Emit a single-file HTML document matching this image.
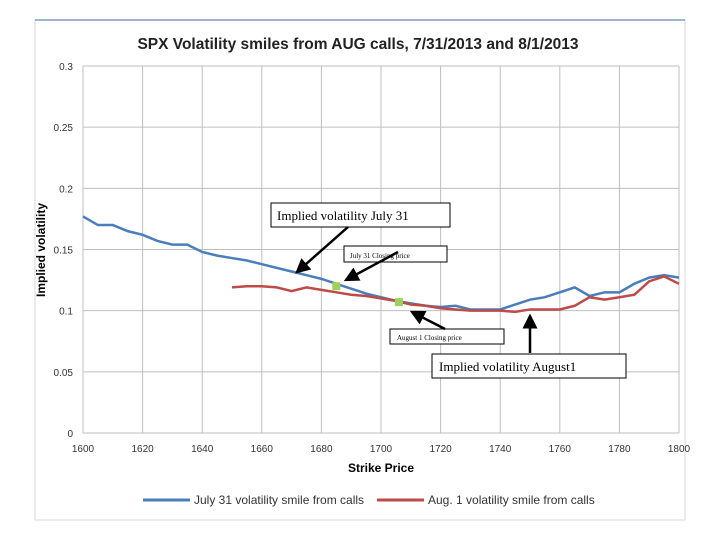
<!DOCTYPE html>
<html><head><meta charset="utf-8"><style>
body{margin:0;background:#fff;width:720px;height:540px;overflow:hidden;font-family:"Liberation Sans",sans-serif}
</style></head><body>
<svg id="c" width="720" height="540" xmlns="http://www.w3.org/2000/svg">
<defs><marker id="ah" markerWidth="6" markerHeight="6" refX="5" refY="3" orient="auto" markerUnits="strokeWidth"><path d="M0,0 L6,3 L0,6 z" fill="#000"/></marker></defs>
<rect x="35" y="20" width="650" height="500" fill="#fff" stroke="#d9d9d9"/>
<line x1="35" y1="20" x2="685" y2="20" stroke="#9db3d0" stroke-width="2"/>
<text x="358" y="49" text-anchor="middle" font-size="15.5" font-weight="bold" fill="#222">SPX Volatility smiles from AUG calls, 7/31/2013 and 8/1/2013</text>
<g id="grid"></g><g id="series"></g>
<text x="45" y="250" transform="rotate(-90 45 250)" text-anchor="middle" font-size="12" font-weight="bold">Implied volatility</text>
<text x="381" y="472" text-anchor="middle" font-size="12" font-weight="bold">Strike Price</text>
<g>
<line x1="143" y1="500" x2="190" y2="500" stroke="#4a7ebb" stroke-width="3"/>
<text x="194" y="504" font-size="12" fill="#333">July 31 volatility smile from calls</text>
<line x1="377" y1="500" x2="424" y2="500" stroke="#be4b48" stroke-width="3"/>
<text x="428" y="504" font-size="12" fill="#333">Aug. 1 volatility smile from calls</text>
</g>
<g font-family="Liberation Serif,serif" fill="#000">
<rect x="271" y="203" width="179" height="24" fill="#fff" stroke="#000"/>
<text x="277" y="220" font-size="13">Implied volatility July 31</text>
<rect x="344" y="246" width="103" height="16" fill="#fff" stroke="#000"/>
<text x="350" y="258" font-size="7">July 31 Closing price</text>
<rect x="390" y="329" width="114" height="15" fill="#fff" stroke="#000"/>
<text x="397" y="340" font-size="7">August 1 Closing price</text>
<rect x="432" y="354" width="194" height="24" fill="#fff" stroke="#000"/>
<text x="439" y="371" font-size="13">Implied volatility August1</text>
</g>
<g stroke="#000" stroke-width="2.5">
<line x1="348" y1="227" x2="297" y2="272" marker-end="url(#ah)"/><line x1="445" y1="329" x2="412" y2="312" marker-end="url(#ah)"/>
<line x1="530" y1="353" x2="530" y2="316" marker-end="url(#ah)"/><line x1="398" y1="252" x2="346" y2="280" marker-end="url(#ah)"/>
</g>
</svg>
<script>
const strikes=[1600,1605,1610,1615,1620,1625,1630,1635,1640,1645,1650,1655,1660,1665,1670,1675,1680,1685,1690,1695,1700,1705,1710,1715,1720,1725,1730,1735,1740,1745,1750,1755,1760,1765,1770,1775,1780,1785,1790,1795,1800];
const july31=[0.177,0.170,0.170,0.165,0.162,0.157,0.154,0.154,0.148,0.145,0.143,0.141,0.138,0.135,0.132,0.129,0.126,0.122,0.118,0.114,0.111,0.108,0.106,0.104,0.103,0.104,0.101,0.101,0.101,0.105,0.109,0.111,0.115,0.119,0.112,0.115,0.115,0.122,0.127,0.129,0.127];
const aug1Strikes=[1650,1655,1660,1665,1670,1675,1680,1685,1690,1695,1700,1705,1710,1715,1720,1725,1730,1735,1740,1745,1750,1755,1760,1765,1770,1775,1780,1785,1790,1795,1800];
const aug1=[0.119,0.120,0.120,0.119,0.116,0.119,0.117,0.115,0.113,0.112,0.110,0.108,0.105,0.104,0.102,0.101,0.100,0.100,0.100,0.099,0.101,0.101,0.101,0.104,0.111,0.109,0.111,0.113,0.124,0.128,0.122];
const closes=[[1685,0.120],[1706,0.107]];
const xTicks=[1600,1620,1640,1660,1680,1700,1720,1740,1760,1780,1800];
const yTicks=[0,0.05,0.1,0.15,0.2,0.25,0.3];
const X=k=>83+(k-1600)*(679-83)/200, Y=v=>433-v*(433-66)/0.3;
const NS='http://www.w3.org/2000/svg';
const g=document.getElementById('grid'), s=document.getElementById('series');
function mk(tag,attrs,parent){const e=document.createElementNS(NS,tag);for(const k in attrs)e.setAttribute(k,attrs[k]);parent.appendChild(e);return e;}
yTicks.forEach(v=>{const l=mk('line',{x1:83,x2:679,y1:Y(v),y2:Y(v),stroke:'#bfbfbf'},g);


const t=mk('text',{x:73,y:Y(v)+4,'text-anchor':'end','font-size':10,fill:'#333'},g);t.textContent=String(v);

});
xTicks.forEach(k=>{const l=mk('line',{x1:X(k),x2:X(k),y1:66,y2:433,stroke:'#bfbfbf'},g);


const t=mk('text',{x:X(k),y:452,'text-anchor':'middle','font-size':10,fill:'#333'},g);t.textContent=k;

});
const pb=mk('polyline',{points:strikes.map((k,i)=>X(k)+','+Y(july31[i])).join(' '),fill:'none',stroke:'#4a7ebb','stroke-width':2.5},s);


const pr=mk('polyline',{points:aug1Strikes.map((k,i)=>X(k)+','+Y(aug1[i])).join(' '),fill:'none',stroke:'#be4b48','stroke-width':2.5},s);


closes.forEach(c=>{const r=mk('rect',{x:X(c[0])-4,y:Y(c[1])-4,width:8,height:8,fill:'#9bd15a'},s);

});
</script>
</body></html>
